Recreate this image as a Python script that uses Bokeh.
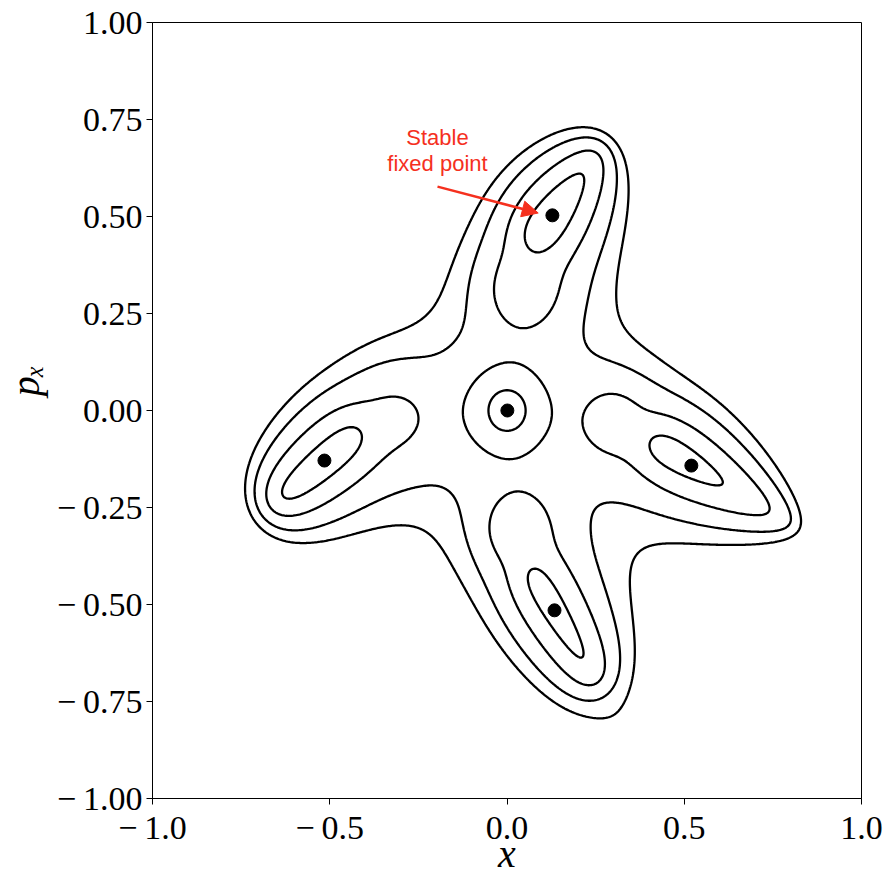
import numpy as np
from bokeh.plotting import figure
from bokeh.models import FixedTicker, CustomJSTickFormatter, Arrow, NormalHead
from bokeh.core.properties import value
from bokeh.embed import file_html
from bokeh.resources import INLINE
from contourpy import contour_generator

# Effective Hamiltonian H(x, p_x): a central well, four elongated lobe wells
# (line sources with a linear density slope), four bridge wells and a weak background.
center_depth, center_width = 0.9808, 0.0641
bg_depth, bg_width, bg_x, bg_y = 0.0983, 0.1542, 0.3416, -0.8620

lobe_x0 = [0.0729, 0.4066, 0.0640, -0.4158]
lobe_y0 = [0.4331, -0.0791, -0.4073, -0.0522]
lobe_x1 = [0.2560, 0.8340, 0.2482, -0.6512]
lobe_y1 = [0.6623, -0.3101, -0.6916, -0.2362]
lobe_width = [0.0458, 0.0452, 0.0453, 0.0456]
lobe_depth = [0.9963, 0.6909, 0.8435, 0.9929]
lobe_slope = [-0.5517, -0.8694, -0.1706, -0.0338]

bridge_x = [0.0479, 0.2964, 0.0307, -0.3107]
bridge_y = [0.3098, -0.0258, -0.3032, -0.0149]
bridge_width = [0.0625, 0.0591, 0.0487, 0.0919]
bridge_depth = [0.9575, 0.7841, 1.1087, 0.5825]

energy_levels = [-0.80, -0.44, -0.28, -0.21]

# stable fixed points (centre and the four outer wells)
fixed_x = [0.001, 0.128, 0.520, 0.134, -0.515]
fixed_p = [0.000, 0.503, -0.142, -0.515, -0.129]

x_ticks = [-1.0, -0.5, 0.0, 0.5, 1.0]
x_labels = ["\u2212\u20091.0", "\u2212\u20090.5", "0.0", "0.5", "1.0"]
y_ticks = [-1.0, -0.75, -0.5, -0.25, 0.0, 0.25, 0.5, 0.75, 1.0]
y_labels = ["\u2212\u20091.00", "\u2212\u20090.75", "\u2212\u20090.50", "\u2212\u20090.25",
            "0.00", "0.25", "0.50", "0.75", "1.00"]


def hamiltonian(X, Y, bridge_scale=1.0):
    h = -center_depth / (1 + (X * X + Y * Y) / center_width ** 2)
    h -= bg_depth / (1 + ((X - bg_x) ** 2 + (Y - bg_y) ** 2) / bg_width ** 2)
    for i in range(4):
        s, A, beta = lobe_width[i], lobe_depth[i], lobe_slope[i]
        mx = (lobe_x0[i] + lobe_x1[i]) / 2; my = (lobe_y0[i] + lobe_y1[i]) / 2
        dx = lobe_x1[i] - lobe_x0[i]; dy = lobe_y1[i] - lobe_y0[i]
        ln = np.hypot(dx, dy); hh = ln / 2
        ex, ey = dx / ln, dy / ln
        u = (X - mx) * ex + (Y - my) * ey
        v = -(X - mx) * ey + (Y - my) * ex
        w2 = s * s + v * v; w = np.sqrt(w2)
        t1 = -hh - u; t2 = hh - u
        I = (1 + beta * u / hh) / w * (np.arctan(t2 / w) - np.arctan(t1 / w)) \
            + beta / (2 * hh) * np.log((w2 + t2 * t2) / (w2 + t1 * t1))
        h -= A * I / (2 / s * np.arctan(hh / s))
        bw = bridge_width[i] / np.sqrt(bridge_scale)
        bd = bridge_depth[i] * bridge_scale
        h -= bd / (1 + ((X - bridge_x[i]) ** 2 + (Y - bridge_y[i]) ** 2) / bw ** 2)
    return h


xs = np.linspace(-1, 1, 500); ys = np.linspace(-1, 1, 500)
XX, YY = np.meshgrid(xs, ys)

# soften the bridges until only the five stable wells carry an inner orbit
scale = 1.0
for _ in range(30):
    Z = hamiltonian(XX, YY, scale)
    gen = contour_generator(xs, ys, Z)
    if len(gen.lines(energy_levels[0])) <= 5:
        break
    scale *= 0.95

lx, ly = [], []
for lv in energy_levels:
    for line in gen.lines(lv):
        lx.append(line[:, 0]); ly.append(line[:, 1])

p = figure(frame_width=709, frame_height=776, x_range=(-1, 1), y_range=(-1, 1),
           output_backend="svg", toolbar_location=None,
           min_border_left=152, min_border_right=27, min_border_top=22, min_border_bottom=89)
p.xgrid.visible = False; p.ygrid.visible = False
p.outline_line_color = "black"
p.multi_line(lx, ly, line_color="black", line_width=2.3)
p.scatter(fixed_x, fixed_p, size=13, color="black")

code = "const i = tv.findIndex(t => Math.abs(t - tick) < 1e-9); return i >= 0 ? tl[i] : '';"
p.xaxis.ticker = FixedTicker(ticks=x_ticks)
p.xaxis.formatter = CustomJSTickFormatter(args=dict(tv=x_ticks, tl=x_labels), code=code)
p.yaxis.ticker = FixedTicker(ticks=y_ticks)
p.yaxis.formatter = CustomJSTickFormatter(args=dict(tv=y_ticks, tl=y_labels), code=code)
for ax in (p.xaxis, p.yaxis):
    ax.major_label_text_font = "Liberation Serif"
    ax.major_label_text_font_size = "34px"
    ax.major_label_text_color = "black"
    ax.major_tick_out = 6; ax.major_tick_in = 0
    ax.minor_tick_line_color = None
    ax.major_label_standoff = 4
    ax.axis_label_text_font = "Liberation Serif"
    ax.axis_label_text_font_style = "italic"
    ax.axis_label_text_font_size = "40px"
    ax.axis_label_text_color = "black"
p.xaxis.axis_label = "x"; p.xaxis.axis_label_standoff = -18
p.yaxis.axis_label = "\u2003\u2002p\u2093"; p.yaxis.axis_label_standoff = 6

red = "#f5301e"
p.text(x=[-0.196, -0.196], y=[0.704, 0.637], text=["Stable", "fixed point"], text_color=red,
       text_font=value("Liberation Sans"), text_font_size="22px", text_align="center",
       text_baseline="middle")
p.add_layout(Arrow(end=NormalHead(size=16, fill_color=red, line_color=red),
                   x_start=-0.196, y_start=0.577, x_end=fixed_x[1] - 0.04, y_end=fixed_p[1] + 0.006,
                   line_color=red, line_width=2.5))

open("out.html", "w").write(file_html(p, INLINE))
